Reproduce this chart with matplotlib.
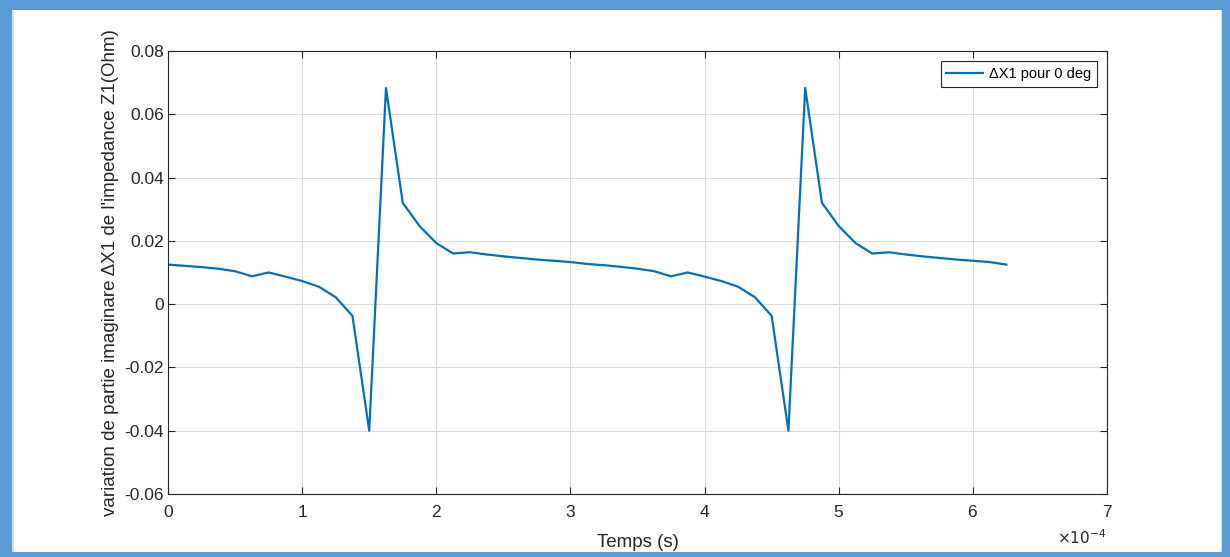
import matplotlib.pyplot as plt
from matplotlib.patches import Rectangle
from matplotlib.ticker import ScalarFormatter

plt.rcParams['font.family'] = ['Liberation Sans', 'DejaVu Sans']

# temps (s), pas de 1.25e-5
temps = [0.0, 1.25e-5, 2.5e-5, 3.75e-5, 5.0e-5, 6.25e-5, 7.5e-5, 8.75e-5, 1.0e-4, 1.125e-4,
         1.25e-4, 1.375e-4, 1.5e-4, 1.625e-4, 1.75e-4, 1.875e-4, 2.0e-4, 2.125e-4, 2.25e-4,
         2.375e-4, 2.5e-4, 2.625e-4, 2.75e-4, 2.875e-4, 3.0e-4, 3.125e-4, 3.25e-4, 3.375e-4,
         3.5e-4, 3.625e-4, 3.75e-4, 3.875e-4, 4.0e-4, 4.125e-4, 4.25e-4, 4.375e-4, 4.5e-4,
         4.625e-4, 4.75e-4, 4.875e-4, 5.0e-4, 5.125e-4, 5.25e-4, 5.375e-4, 5.5e-4, 5.625e-4,
         5.75e-4, 5.875e-4, 6.0e-4, 6.125e-4, 6.25e-4]

dX1 = [0.0125, 0.0121, 0.0117, 0.0112, 0.0104, 0.0088, 0.0100, 0.0087, 0.0073, 0.0055,
       0.0022, -0.0037, -0.0400, 0.0683, 0.0320, 0.0247, 0.0193, 0.0160, 0.0164,
       0.0157, 0.0151, 0.0146, 0.0141, 0.0137, 0.0133, 0.0127, 0.0123, 0.0118,
       0.0112, 0.0104, 0.0088, 0.0100, 0.0087, 0.0073, 0.0055, 0.0022, -0.0037,
       -0.0400, 0.0683, 0.0320, 0.0247, 0.0193, 0.0160, 0.0164, 0.0157, 0.0151,
       0.0146, 0.0141, 0.0137, 0.0133, 0.0125]

W, H = 1230, 557
fig = plt.figure(figsize=(W / 100, H / 100), dpi=100)

# cadre bleu autour de la figure (en pixels)
def bande(x0, y0, x1, y1, c='#5b9bd5'):
    fig.patches.append(Rectangle((x0 / W, 1 - y1 / H), (x1 - x0) / W, (y1 - y0) / H,
                                 transform=fig.transFigure, facecolor=c, edgecolor='none', zorder=10))

bande(0, 0, W, 10)
bande(0, 552, W, H)
bande(0, 0, 12, H)
bande(1222, 0, W, H)
bande(12, 10, 13.5, 552, '#cfe0f1')
bande(1220.5, 10, 1222, 552, '#cfe0f1')

ax = fig.add_axes([168 / W, 1 - 494 / H, (1107 - 168) / W, (494 - 51) / H])
ax.plot(temps, dX1, color='#0072bd', linewidth=1.6, label='ΔX1 pour 0 deg')

ax.set_xlim(0, 7e-4)
ax.set_ylim(-0.06, 0.08)
ax.set_xticks([i * 1e-4 for i in range(8)])
ax.set_yticks([-0.06, -0.04, -0.02, 0, 0.02, 0.04, 0.06, 0.08])
ax.set_yticklabels(['-0.06', '-0.04', '-0.02', '0', '0.02', '0.04', '0.06', '0.08'])

fmt = ScalarFormatter(useMathText=True)
fmt.set_powerlimits((0, 0))
ax.xaxis.set_major_formatter(fmt)
ax.xaxis.get_offset_text().set_visible(False)
fig.text(1106 / W, 1 - 538 / H, r'$\times 10^{-4}$', ha='right', va='center',
         fontsize=11, color='#262626')

ax.grid(True, color='#dcdcdc', linewidth=0.8)
ax.tick_params(direction='in', top=True, right=True, length=5, labelsize=12.5,
               colors='#262626', width=0.8)
ax.tick_params(axis='x', pad=7)
ax.tick_params(axis='y', pad=3)
for s in ax.spines.values():
    s.set_color('#262626')
    s.set_linewidth(0.8)

ax.set_xlabel('Temps (s)', fontsize=13.5, color='#262626', labelpad=10)
ax.set_ylabel("variation de partie imaginare ΔX1 de l'impedance Z1(Ohm)", fontsize=13.5,
              color='#262626', labelpad=4)

leg = ax.legend(loc='upper right', fontsize=10.5, fancybox=False, framealpha=1,
                edgecolor='#262626', borderaxespad=0.7, handlelength=2.5, handletextpad=0.4,
                borderpad=0.4)
leg.get_frame().set_linewidth(0.8)

fig.savefig('out.png', dpi=100)
